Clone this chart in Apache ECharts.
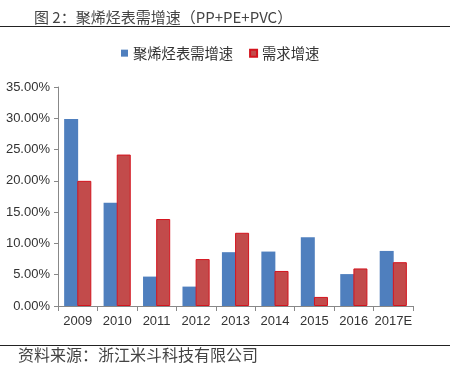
<!DOCTYPE html>
<html><head><meta charset="utf-8">
<script src="https://cdn.jsdelivr.net/npm/echarts@6/dist/echarts.min.js"></script>
<style>html,body{margin:0;padding:0;background:#fff}#c{width:450px;height:368px}</style>
</head><body><div id="c"></div>
<script>
const categories = ['2009','2010','2011','2012','2013','2014','2015','2016','2017E'];
const apparentGrowth = [29.9, 16.5, 4.7, 3.1, 8.6, 8.7, 11.0, 5.1, 8.8];
const demandGrowth = [20.0, 24.2, 13.9, 7.5, 11.7, 5.6, 1.45, 6.0, 7.0];
const seriesNames = ['聚烯烃表需增速', '需求增速'];
const titleText = '图 2：聚烯烃表需增速（PP+PE+PVC）';
const sourceText = '资料来源：浙江米斗科技有限公司';

const chart = echarts.init(document.getElementById('c'));
const font = '"Noto Sans CJK SC", sans-serif';
chart.setOption({
  animation: false,
  backgroundColor: '#fff',
  title: { text: titleText, left: 29, top: 5, textStyle: { fontSize: 15, fontWeight: 'normal', color: '#444', fontFamily: font } },
  graphic: [
    { type: 'line', shape: { x1: 0, y1: 26.5, x2: 450, y2: 26.5 }, style: { stroke: '#222', lineWidth: 1.2 } },
    { type: 'line', shape: { x1: 0, y1: 345.5, x2: 450, y2: 345.5 }, style: { stroke: '#222', lineWidth: 1.2 } },
    { type: 'text', left: 18, top: 347, style: { text: sourceText, font: '16px ' + font, fill: '#444' } }
  ],
  legend: {
    top: 41, left: 116, itemWidth: 7, itemHeight: 7, itemGap: 16,
    textStyle: { fontSize: 14.3, color: '#333', fontFamily: font },
    data: seriesNames.map(n => ({ name: n, icon: 'rect' }))
  },
  grid: { left: 58, right: 37, top: 87, bottom: 62 },
  xAxis: {
    type: 'category', data: categories,
    axisLine: { lineStyle: { color: '#888' } },
    axisTick: { show: true, length: 5, lineStyle: { color: '#888' } },
    axisLabel: { interval: 0, fontSize: 13, color: '#333', margin: 9, fontFamily: 'Liberation Sans, sans-serif' }
  },
  yAxis: {
    type: 'value', min: 0, max: 35, interval: 5,
    splitLine: { show: false },
    axisLine: { show: true, lineStyle: { color: '#888' } },
    axisTick: { show: true, length: 4, lineStyle: { color: '#888' } },
    axisLabel: { fontSize: 13, color: '#333', margin: 8, fontFamily: 'Liberation Sans, sans-serif', formatter: v => v.toFixed(2) + '%' }
  },
  series: [
    { name: seriesNames[0], type: 'bar', data: apparentGrowth, barWidth: 14, barGap: '-6%', itemStyle: { color: '#4F7FBE' } },
    { name: seriesNames[1], type: 'bar', data: demandGrowth, barWidth: 14, barGap: '-6%', itemStyle: { color: '#C24B4B', borderColor: '#D4141E', borderWidth: 1 } }
  ]
});
</script></body></html>
